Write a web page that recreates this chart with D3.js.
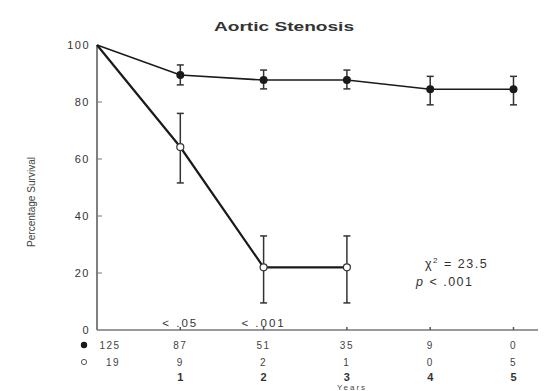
<!DOCTYPE html>
<html>
<head>
<meta charset="utf-8">
<script src="https://cdn.jsdelivr.net/npm/d3@7"></script>
<style>
  body { margin: 0; background: #fff; }
  svg { display: block; font-family: "Liberation Sans", Arial, sans-serif; }
</style>
</head>
<body>
<div id="chart"></div>
<script>
// survival data
const years = [0, 1, 2, 3, 4, 5];
const yTicks = [0, 20, 40, 60, 80, 100];

const treated = [100, 89.5, 87.7, 87.7, 84.5, 84.5];
const treatedLow = [100, 86, 84.6, 84.6, 79, 79];
const treatedHigh = [100, 93, 91.2, 91.2, 89, 89];

const untreatedYears = [0, 1, 2, 3];
const untreated = [100, 64.2, 22, 22];
const untreatedLow = [100, 51.6, 9.5, 9.5];
const untreatedHigh = [100, 76, 33, 33];

const atRiskTreated = ['125', '87', '51', '35', '9', '0'];
const atRiskUntreated = ['19', '9', '2', '1', '0', '5'];
const pLabels = [{ year: 1, text: '< .05' }, { year: 2, text: '< .001' }];

const width = 549, height = 391;
const margin = { top: 45, right: 12, bottom: 61, left: 97 };

const svg = d3.select('#chart')
  .append('svg')
  .attr('width', width)
  .attr('height', height);

const x = d3.scaleLinear().domain([0, 5]).range([margin.left, 513.5]);
const y = d3.scaleLinear().domain([0, 100]).range([height - margin.bottom, margin.top]);

const ink = '#1a1a1a';

svg.append('text')
  .attr('x', 284).attr('y', 31)
  .attr('text-anchor', 'middle')
  .attr('textLength', 140)
  .attr('lengthAdjust', 'spacingAndGlyphs')
  .style('font-size', '12.5px')
  .style('font-weight', 'bold')
  .attr('fill', '#333')
  .text('Aortic Stenosis');

// axes
svg.append('line')
  .attr('x1', x(0)).attr('x2', x(0))
  .attr('y1', y(100)).attr('y2', y(0))
  .attr('stroke', '#555').attr('stroke-width', 1.5);
svg.append('line')
  .attr('x1', x(0)).attr('x2', 538)
  .attr('y1', y(0)).attr('y2', y(0))
  .attr('stroke', '#777').attr('stroke-width', 1.5);

svg.selectAll('.ytick')
  .data(yTicks.filter(d => d > 0 && d < 100))
  .enter().append('line')
  .attr('x1', x(0)).attr('x2', x(0) + 5)
  .attr('y1', d => y(d)).attr('y2', d => y(d))
  .attr('stroke', '#777');

svg.selectAll('.ylab')
  .data(yTicks)
  .enter().append('text')
  .attr('x', 90).attr('y', d => y(d) + 4)
  .attr('text-anchor', 'end')
  .style('font-size', '11px')
  .style('letter-spacing', '1.5px')
  .attr('fill', '#333')
  .text(d => d);

svg.append('text')
  .attr('transform', `translate(35,${y(40) - 14}) rotate(-90)`)
  .attr('text-anchor', 'middle')
  .attr('textLength', 90)
  .attr('lengthAdjust', 'spacingAndGlyphs')
  .style('font-size', '11px')
  .attr('fill', '#444')
  .text('Percentage Survival');

svg.selectAll('.xtick')
  .data(years.slice(1))
  .enter().append('line')
  .attr('x1', d => x(d)).attr('x2', d => x(d))
  .attr('y1', y(0) - 3).attr('y2', y(0))
  .attr('stroke', '#555').attr('stroke-width', 1.5);

svg.selectAll('.xlab')
  .data(years.slice(1))
  .enter().append('text')
  .attr('x', d => x(d)).attr('y', 381)
  .attr('text-anchor', 'middle')
  .style('font-size', '11px')
  .style('font-weight', 'bold')
  .attr('fill', '#333')
  .text(d => d);

svg.append('text')
  .attr('x', 352).attr('y', 390)
  .attr('text-anchor', 'middle')
  .style('font-size', '8px')
  .style('letter-spacing', '2px')
  .attr('fill', '#444')
  .text('Years');

// numbers at risk
svg.append('circle').attr('cx', 84).attr('cy', 345).attr('r', 3.2)
  .attr('fill', ink);
svg.append('circle').attr('cx', 84).attr('cy', 362).attr('r', 2.6)
  .attr('fill', '#fff').attr('stroke', '#555');
svg.selectAll('.risk1')
  .data(atRiskTreated)
  .enter().append('text')
  .attr('x', (d, i) => i === 0 ? 110 : x(years[i]))
  .attr('y', 349)
  .attr('text-anchor', 'middle')
  .style('font-size', '10px')
  .style('letter-spacing', '1.5px')
  .attr('fill', '#444')
  .text(d => d);
svg.selectAll('.risk2')
  .data(atRiskUntreated)
  .enter().append('text')
  .attr('x', (d, i) => i === 0 ? 113 : x(years[i]))
  .attr('y', 366)
  .attr('text-anchor', 'middle')
  .style('font-size', '10px')
  .style('letter-spacing', '1.5px')
  .attr('fill', '#444')
  .text(d => d);

// p-values at years
svg.selectAll('.plab')
  .data(pLabels)
  .enter().append('text')
  .attr('x', d => x(d.year)).attr('y', 327)
  .attr('text-anchor', 'middle')
  .style('font-size', '11.5px')
  .style('letter-spacing', '2px')
  .attr('fill', '#333')
  .text(d => d.text);

svg.append('text')
  .attr('x', 425).attr('y', 268)
  .style('font-size', '12.5px')
  .style('letter-spacing', '1.5px')
  .attr('fill', '#333')
  .html('χ<tspan dy="-5" font-size="8px">2</tspan><tspan dy="5"> = 23.5</tspan>');
svg.append('text')
  .attr('x', 416).attr('y', 286)
  .style('font-size', '12.5px')
  .style('letter-spacing', '1.5px')
  .attr('fill', '#333')
  .html('<tspan font-style="italic">p</tspan> &lt; .001');

// lines
const line = d3.line().x(d => x(d[0])).y(d => y(d[1]));

svg.append('path')
  .datum(untreatedYears.map((d, i) => [d, untreated[i]]))
  .attr('d', line)
  .attr('fill', 'none')
  .attr('stroke', ink)
  .attr('stroke-width', 2.2);

svg.append('path')
  .datum(years.map((d, i) => [d, treated[i]]))
  .attr('d', line)
  .attr('fill', 'none')
  .attr('stroke', ink)
  .attr('stroke-width', 1.6);

function errorBars(xs, lo, hi, cls) {
  const g = svg.selectAll('.' + cls)
    .data(xs.map((d, i) => ({ x: d, lo: lo[i], hi: hi[i] })).filter(d => d.x > 0))
    .enter().append('g');
  g.append('line')
    .attr('x1', d => x(d.x)).attr('x2', d => x(d.x))
    .attr('y1', d => y(d.lo)).attr('y2', d => y(d.hi))
    .attr('stroke', '#333').attr('stroke-width', 1.5);
  g.append('line')
    .attr('x1', d => x(d.x) - 3.5).attr('x2', d => x(d.x) + 3.5)
    .attr('y1', d => y(d.lo)).attr('y2', d => y(d.lo))
    .attr('stroke', '#333').attr('stroke-width', 1.5);
  g.append('line')
    .attr('x1', d => x(d.x) - 3.5).attr('x2', d => x(d.x) + 3.5)
    .attr('y1', d => y(d.hi)).attr('y2', d => y(d.hi))
    .attr('stroke', '#333').attr('stroke-width', 1.5);
}
errorBars(years, treatedLow, treatedHigh, 'errT');
errorBars(untreatedYears, untreatedLow, untreatedHigh, 'errU');

svg.selectAll('.ptU')
  .data(untreatedYears.slice(1))
  .enter().append('circle')
  .attr('cx', d => x(d))
  .attr('cy', (d, i) => y(untreated[i + 1]))
  .attr('r', 3.5)
  .attr('fill', '#fff')
  .attr('stroke', '#333')
  .attr('stroke-width', 1.2);

svg.selectAll('.ptT')
  .data(years.slice(1))
  .enter().append('circle')
  .attr('cx', d => x(d))
  .attr('cy', (d, i) => y(treated[i + 1]))
  .attr('r', 4)
  .attr('fill', ink);
</script>
</body>
</html>
